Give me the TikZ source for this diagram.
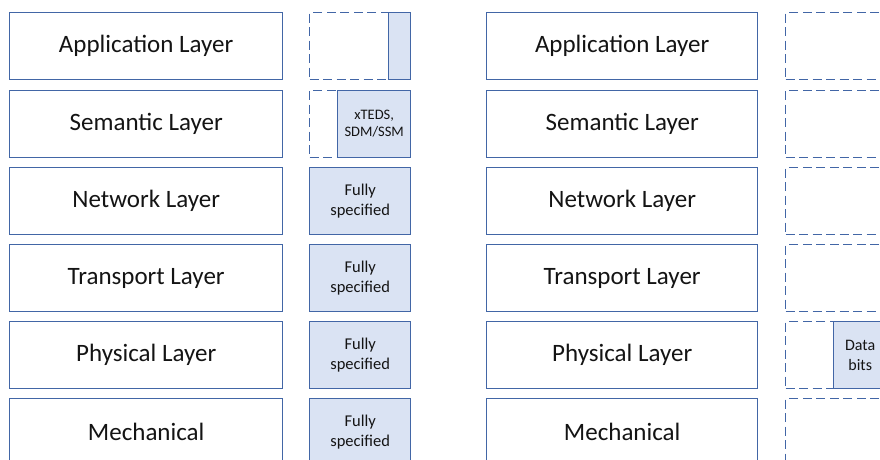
\documentclass[tikz,border=0pt]{standalone}
\usepackage{fontspec}
\setmainfont{Carlito}
\definecolor{edge}{RGB}{66,102,166}
\definecolor{specfill}{RGB}{218,227,243}
\definecolor{ink}{RGB}{20,20,20}
\tikzset{
  layer/.style={draw=edge, line width=1.4pt, fill=white, anchor=north west,
    minimum width=273pt, minimum height=67pt, inner sep=0pt, text=ink,
    font=\fontsize{25}{30}\selectfont},
  slot/.style={draw=edge, line width=1.4pt, dash pattern=on 9pt off 4.5pt,
    anchor=north west, minimum width=101pt, minimum height=67pt, inner sep=0pt},
  spec/.style={draw=edge, line width=1.4pt, fill=specfill, anchor=north west,
    minimum height=67pt, inner sep=0pt, text=ink, align=center,
    font=\fontsize{16.5}{19.5}\selectfont},
}
\begin{document}
\begin{tikzpicture}[x=1pt, y=-1pt]
\useasboundingbox (0,0) rectangle (880,460);
\clip (0,0) rectangle (880,460);

% left stack
\node[layer] (la) at (9,12)    {Application Layer};
\node[layer] (ls) at (9,89.5)  {Semantic Layer};
\node[layer] (ln) at (9,167)   {Network Layer};
\node[layer] (lt) at (9,244)   {Transport Layer};
\node[layer] (lp) at (9,321)   {Physical Layer};
\node[layer] (lm) at (9,398)   {Mechanical};

% left side column
\node[slot] (sa) at (309,12) {};
\node[spec, minimum width=22pt] (fa) at (388,12) {};
\node[slot] (ss) at (309,89.5) {};
\node[spec, minimum width=73pt, font=\fontsize{14.5}{17}\selectfont] (fs) at (337,89.5) {xTEDS,\\SDM/SSM};
\node[spec, minimum width=101pt] (fn) at (309,167) {Fully\\specified};
\node[spec, minimum width=101pt] (ft) at (309,244) {Fully\\specified};
\node[spec, minimum width=101pt] (fp) at (309,321) {Fully\\specified};
\node[spec, minimum width=101pt] (fm) at (309,398) {Fully\\specified};

% right stack
\node[layer, minimum width=271pt] (ra) at (486,12)    {Application Layer};
\node[layer, minimum width=271pt] (rs) at (486,89.5)  {Semantic Layer};
\node[layer, minimum width=271pt] (rn) at (486,167)   {Network Layer};
\node[layer, minimum width=271pt] (rt) at (486,244)   {Transport Layer};
\node[layer, minimum width=271pt] (rp) at (486,321)   {Physical Layer};
\node[layer, minimum width=271pt] (rm) at (486,398)   {Mechanical};

% right side column
\node[slot] (qa) at (785,12)   {};
\node[slot] (qs) at (785,89.5) {};
\node[slot] (qn) at (785,167)  {};
\node[slot] (qt) at (785,244)  {};
\node[slot] (qp) at (785,321)  {};
\node[spec, minimum width=53pt, font=\fontsize{16}{20}\selectfont] (dp) at (833,321) {Data\\bits};
\node[slot] (qm) at (785,398)  {};
\end{tikzpicture}
\end{document}
